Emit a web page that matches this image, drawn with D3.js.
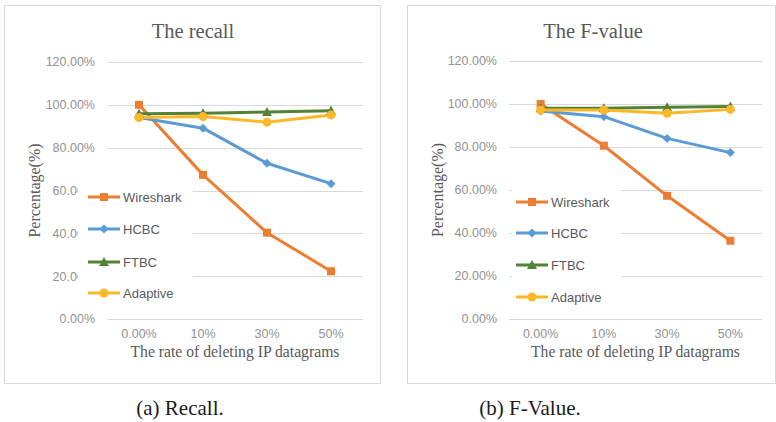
<!DOCTYPE html>
<html><head><meta charset="utf-8">
<script src="https://cdn.jsdelivr.net/npm/d3@7"></script>
<style>body{margin:0;background:#fff}svg{display:block}</style>
</head><body>
<svg id="c" width="776" height="422"></svg>
<script>
const categories = ["0.00%", "10%", "30%", "50%"];
const seriesNames = ["Wireshark", "HCBC", "FTBC", "Adaptive"];
const colors = ["#ED7D31", "#5B9BD5", "#548235", "#FBB829"];
const recallWireshark = [100, 67.3, 40.3, 22.3];
const recallHCBC = [94.1, 89.1, 72.7, 63.2];
const recallFTBC = [95.8, 96.1, 96.6, 97.2];
const recallAdaptive = [94.1, 94.5, 91.9, 95.3];
const fWireshark = [100, 80.6, 57.3, 36.4];
const fHCBC = [96.7, 94.1, 84.0, 77.4];
const fFTBC = [98.0, 98.0, 98.5, 98.8];
const fAdaptive = [97.2, 97.2, 95.7, 97.5];
const yTicks = [0, 20, 40, 60, 80, 100, 120];
const recallTickLabels = ["0.00%", "20.00%", "40.00%", "60.00%", "80.00%", "100.00%", "120.00%"];
const fTickLabels = ["0.00%", "20.00%", "40.00%", "60.00%", "80.00%", "100.00%", "120.00%"];

const svg = d3.select("#c");
const serif = "'Liberation Serif','Times New Roman',serif";
const sans = "'Liberation Sans',Arial,sans-serif";

function panel(cfg) {
  const g = svg.append("g");
  g.append("rect").attr("x", cfg.box[0]+0.5).attr("y", cfg.box[1]+0.5)
    .attr("width", cfg.box[2]).attr("height", cfg.box[3])
    .attr("fill", "#fff").attr("stroke", "#d9d9d9");
  const x = d3.scaleBand().domain(categories).range([cfg.px0, cfg.px1]);
  const y = d3.scaleLinear().domain([0, 120]).range([cfg.py0, cfg.py1]);
  g.append("g").selectAll("line").data(yTicks).join("line")
    .attr("x1", cfg.px0).attr("x2", cfg.px1)
    .attr("y1", d => Math.round(y(d))+0.5).attr("y2", d => Math.round(y(d))+0.5)
    .attr("stroke", "#d9d9d9").attr("stroke-width", 1);
  g.append("g").selectAll("text").data(yTicks).join("text")
    .attr("x", cfg.px0 - 12).attr("y", d => y(d)).attr("dy", "0.35em")
    .attr("text-anchor", "end").attr("font-family", sans).attr("font-size", 12.5)
    .attr("fill", "#929292").text((d, i) => cfg.tickLabels[i]);
  g.append("g").selectAll("text").data(categories).join("text")
    .attr("x", d => x(d) + x.bandwidth()/2).attr("y", cfg.py0 + 15).attr("dy", "0.35em")
    .attr("text-anchor", "middle").attr("font-family", sans).attr("font-size", 12.5)
    .attr("fill", "#929292").text(d => d);
  g.append("text").attr("x", cfg.titleX).attr("y", 31).attr("dy", "0.35em")
    .attr("text-anchor", "middle").attr("font-family", serif).attr("font-size", 20.5)
    .attr("fill", "#595959").text(cfg.title);
  g.append("text").attr("x", (cfg.px0 + cfg.px1)/2).attr("y", 352).attr("dy", "0.35em")
    .attr("text-anchor", "middle").attr("font-family", serif).attr("font-size", 15.7)
    .attr("fill", "#595959").text("The rate of deleting IP datagrams");
  g.append("text").attr("transform", `translate(${cfg.yTitleX},${(cfg.py0+cfg.py1)/2}) rotate(-90)`)
    .attr("dy", "0.35em").attr("text-anchor", "middle").attr("font-family", serif).attr("font-size", 16)
    .attr("fill", "#595959").text("Percentage(%)");
  g.append("rect").attr("x", cfg.leg[0]).attr("y", cfg.leg[1]).attr("width", cfg.leg[2]).attr("height", cfg.leg[3]).attr("fill", "#fff");
  const line = d3.line().x((d, i) => x(categories[i]) + x.bandwidth()/2).y(d => y(d));
  cfg.series.forEach((vals, s) => {
    g.append("path").attr("d", line(vals)).attr("fill", "none")
      .attr("stroke", colors[s]).attr("stroke-width", 3).attr("stroke-linejoin", "round");
  });
  cfg.series.forEach((vals, s) => {
    vals.forEach((v, i) => marker(g, s, x(categories[i]) + x.bandwidth()/2, y(v)));
  });
  seriesNames.forEach((n, s) => {
    const ly = cfg.legY[s];
    g.append("line").attr("x1", cfg.legX).attr("x2", cfg.legX + 32).attr("y1", ly).attr("y2", ly)
      .attr("stroke", colors[s]).attr("stroke-width", 3);
    marker(g, s, cfg.legX + 16, ly);
    g.append("text").attr("x", cfg.legX + 35).attr("y", ly).attr("dy", "0.35em")
      .attr("font-family", sans).attr("font-size", 13).attr("fill", "#595959").text(n);
  });
}

function marker(g, s, cx, cy) {
  const c = colors[s];
  if (s === 0) g.append("rect").attr("x", cx-4).attr("y", cy-4).attr("width", 8).attr("height", 8).attr("fill", c);
  else if (s === 1) g.append("path").attr("d", `M${cx},${cy-4.5}L${cx+4.5},${cy}L${cx},${cy+4.5}L${cx-4.5},${cy}Z`).attr("fill", c);
  else if (s === 2) g.append("path").attr("d", `M${cx},${cy-5}L${cx+5},${cy+4}L${cx-5},${cy+4}Z`).attr("fill", c);
  else g.append("circle").attr("cx", cx).attr("cy", cy).attr("r", 4.5).attr("fill", c);
}

panel({
  box: [4, 5, 376, 378], px0: 107, px1: 363, py0: 319, py1: 62,
  title: "The recall", titleX: 193, yTitleX: 34, tickLabels: recallTickLabels,
  leg: [78, 182, 115, 125], legX: 88, legY: [197, 229, 262, 293],
  series: [recallWireshark, recallHCBC, recallFTBC, recallAdaptive]
});
panel({
  box: [407, 5, 368, 378], px0: 509, px1: 762, py0: 319, py1: 61,
  title: "The F-value", titleX: 593, yTitleX: 437, tickLabels: fTickLabels,
  leg: [512, 186, 109, 125], legX: 516, legY: [202, 233, 265, 297],
  series: [fWireshark, fHCBC, fFTBC, fAdaptive]
});

svg.append("text").attr("x", 180).attr("y", 408).attr("dy", "0.35em").attr("text-anchor", "middle")
  .attr("font-family", serif).attr("font-size", 21).attr("fill", "#1a1a1a").text("(a) Recall.");
svg.append("text").attr("x", 530).attr("y", 408).attr("dy", "0.35em").attr("text-anchor", "middle")
  .attr("font-family", serif).attr("font-size", 21).attr("fill", "#1a1a1a").text("(b) F-Value.");
</script>
</body></html>
